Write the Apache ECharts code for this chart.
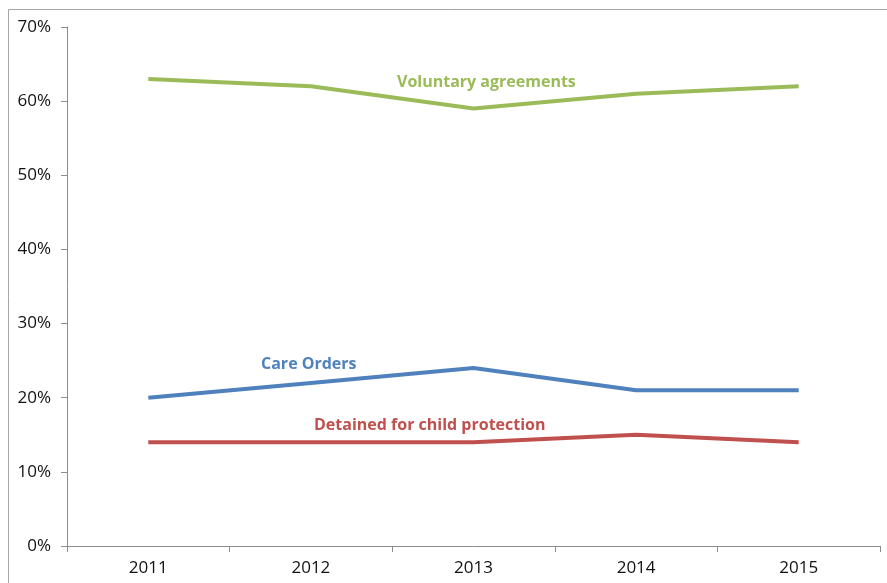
<!DOCTYPE html>
<html>
<head>
<meta charset="utf-8">
<script src="https://cdn.jsdelivr.net/npm/echarts@6/dist/echarts.min.js"></script>
<style>
html,body{margin:0;padding:0;background:#fff;}
#chart{width:887px;height:583px;}
</style>
</head>
<body>
<div id="chart"></div>
<script>
const years = ['2011', '2012', '2013', '2014', '2015'];
const voluntary = [63, 62, 59, 61, 62];
const careOrders = [20, 22, 24, 21, 21];
const detained = [14, 14, 14, 15, 14];
const yTicks = [0, 10, 20, 30, 40, 50, 60, 70];

const chart = echarts.init(document.getElementById('chart'));
const font = 'Open Sans, Liberation Sans, sans-serif';
const axisColor = '#8c8c8c';

chart.setOption({
  animation: false,
  backgroundColor: '#fff',
  grid: { left: 67, right: 7, top: 27, bottom: 37, containLabel: false },
  xAxis: {
    type: 'category',
    data: years,
    boundaryGap: true,
    axisLine: { lineStyle: { color: axisColor, width: 1 } },
    axisTick: { show: true, length: 6, alignWithLabel: false, lineStyle: { color: axisColor } },
    axisLabel: { color: '#111', fontSize: 17, fontFamily: font, margin: 14 },
    splitLine: { show: false }
  },
  yAxis: {
    type: 'value',
    min: yTicks[0],
    max: yTicks[yTicks.length - 1],
    interval: 10,
    axisLine: { show: true, lineStyle: { color: axisColor, width: 1 } },
    axisTick: { show: true, length: 6, lineStyle: { color: axisColor } },
    axisLabel: { color: '#111', fontSize: 17, fontFamily: font, margin: 16, formatter: v => v + '%' },
    splitLine: { show: false }
  },
  graphic: [
    { type: 'rect', silent: true, shape: { x: 8.5, y: 9.5, width: 1000, height: 1000 },
      style: { fill: 'none', stroke: '#a6a6a6', lineWidth: 1 }, z: -1 },
    { type: 'text', left: 397, top: 74, style: { text: 'Voluntary agreements', fill: '#9BBB59', font: 'bold 16px ' + font } },
    { type: 'text', left: 261, top: 356, style: { text: 'Care Orders', fill: '#4F81BD', font: 'bold 16px ' + font } },
    { type: 'text', left: 314, top: 417, style: { text: 'Detained for child protection', fill: '#C0504D', font: 'bold 16px ' + font } }
  ],
  series: [
    { name: 'Voluntary agreements', type: 'line', data: voluntary, symbol: 'none',
      lineStyle: { color: '#9BBB59', width: 4 } },
    { name: 'Care Orders', type: 'line', data: careOrders, symbol: 'none',
      lineStyle: { color: '#4F81BD', width: 4 } },
    { name: 'Detained for child protection', type: 'line', data: detained, symbol: 'none',
      lineStyle: { color: '#C0504D', width: 4 } }
  ]
});
</script>
</body>
</html>
